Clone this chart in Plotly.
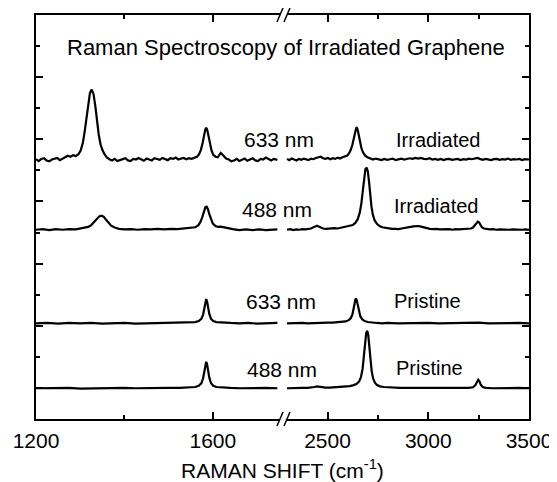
import plotly.graph_objects as go

# ---------------- data ----------------
# vertical stacking offsets of the four spectra (arb. units)
OFFSET_633_IRR = 8.34
OFFSET_488_IRR = 6.09
OFFSET_633_PRI = 3.08
OFFSET_488_PRI = 0.99

# 633 nm irradiated
a_left_x = [1200, 1206, 1212, 1218, 1224, 1230, 1236, 1242, 1248, 1254, 1260, 1266, 1272, 1278, 1284, 1290, 1296,
            1301, 1306, 1310, 1314, 1318, 1322, 1326, 1330, 1334, 1338, 1342, 1346, 1350, 1355, 1360, 1366, 1372,
            1378, 1384, 1390, 1396, 1402, 1408, 1414, 1420, 1426, 1432, 1438, 1444, 1450, 1456, 1462, 1468, 1474,
            1480, 1486, 1492, 1498, 1504, 1510, 1516, 1522, 1528, 1534, 1540, 1546, 1552, 1558, 1564, 1569, 1573,
            1577, 1580, 1583, 1585, 1587, 1590, 1593, 1597, 1601, 1606, 1611, 1615, 1618, 1621, 1625, 1630, 1636,
            1642, 1648, 1654, 1660, 1666, 1672, 1678, 1684, 1690, 1696, 1702, 1708, 1714, 1720, 1726, 1732, 1738, 1746]
a_left_y = [0.02, -0.04, 0.03, 0.05, -0.02, -0.05, 0.01, 0.04, 0.06, -0.01, 0.03, 0.09, 0.13, 0.10, 0.15, 0.12, 0.18,
            0.30, 0.55, 0.90, 1.35, 1.80, 2.15, 2.26, 2.12, 1.75, 1.25, 0.80, 0.50, 0.32, 0.18, 0.08, 0.02, -0.02,
            0.03, -0.04, -0.01, 0.02, 0.05, -0.02, -0.04, 0.03, 0.01, 0.06, 0.02, -0.03, 0.04, 0.01, -0.02, 0.05, 0.03,
            0.00, 0.06, 0.02, -0.01, 0.05, 0.03, 0.07, 0.01, 0.04, 0.06, 0.02, 0.05, 0.03, 0.07, 0.10, 0.18, 0.32,
            0.55, 0.80, 0.98, 1.03, 0.98, 0.78, 0.52, 0.30, 0.16, 0.10, 0.08, 0.16, 0.22, 0.18, 0.10, 0.04, 0.01,
            -0.05, -0.02, 0.03, -0.04, -0.01, 0.04, -0.03, 0.02, 0.05, -0.02, -0.04, 0.03, 0.01, 0.07, 0.02, -0.02, 0.03, 0.00]
a_right_x = [2299, 2310, 2322, 2334, 2346, 2358, 2370, 2382, 2394, 2406, 2418, 2430, 2442, 2454, 2466, 2478, 2490,
             2502, 2514, 2526, 2538, 2550, 2562, 2574, 2586, 2598, 2608, 2616, 2624, 2631, 2637, 2642, 2645, 2649,
             2655, 2661, 2668, 2676, 2686, 2698, 2712, 2726, 2740, 2754, 2768, 2782, 2796, 2810, 2824, 2838, 2852,
             2866, 2880, 2894, 2908, 2922, 2936, 2950, 2964, 2978, 2992, 3006, 3020, 3034, 3048, 3062, 3076, 3090,
             3104, 3118, 3132, 3146, 3160, 3174, 3188, 3202, 3216, 3230, 3244, 3256, 3270, 3284, 3298, 3312, 3326,
             3340, 3354, 3368, 3382, 3396, 3410, 3424, 3438, 3452, 3466, 3480, 3500]
a_right_y = [0.03, -0.01, 0.04, 0.02, -0.02, 0.03, 0.00, 0.04, 0.01, -0.01, 0.04, 0.02, 0.06, 0.08, 0.10, 0.05, 0.03,
             0.06, 0.02, 0.05, 0.03, 0.07, 0.04, 0.08, 0.10, 0.14, 0.22, 0.33, 0.50, 0.72, 0.92, 1.02, 1.03, 0.98,
             0.80, 0.58, 0.38, 0.24, 0.14, 0.08, 0.05, 0.01, 0.04, 0.02, -0.01, 0.03, 0.00, 0.02, 0.04, -0.01, 0.02,
             0.04, 0.01, 0.03, 0.05, 0.03, 0.06, 0.04, 0.06, 0.03, 0.02, 0.05, 0.01, 0.03, 0.00, 0.03, -0.01, 0.02,
             0.03, 0.00, 0.02, 0.03, -0.01, 0.02, 0.01, 0.04, 0.02, 0.04, 0.06, 0.03, 0.00, 0.03, 0.01, -0.01, 0.02,
             0.03, 0.00, 0.02, 0.01, 0.04, 0.00, 0.02, 0.01, 0.03, -0.01, 0.02, 0.01]

# 488 nm irradiated
b_left_x = [1200, 1215, 1230, 1245, 1260, 1275, 1290, 1300, 1310, 1318, 1325, 1332, 1338, 1343, 1348, 1353, 1358,
            1364, 1370, 1378, 1388, 1400, 1415, 1430, 1445, 1460, 1475, 1490, 1505, 1520, 1535, 1550, 1560, 1567,
            1572, 1576, 1580, 1583, 1586, 1589, 1592, 1596, 1600, 1606, 1612, 1618, 1624, 1632, 1645, 1660, 1675,
            1690, 1705, 1720, 1735, 1746]
b_left_y = [0.00, 0.02, -0.01, 0.02, 0.00, 0.02, 0.01, 0.03, 0.05, 0.09, 0.15, 0.25, 0.36, 0.43, 0.45, 0.42, 0.33,
            0.22, 0.13, 0.07, 0.03, 0.01, 0.02, 0.00, 0.02, 0.01, 0.03, 0.01, 0.03, 0.02, 0.04, 0.05, 0.08, 0.14,
            0.25, 0.40, 0.60, 0.72, 0.74, 0.66, 0.50, 0.32, 0.20, 0.12, 0.09, 0.10, 0.08, 0.04, 0.02, -0.01, 0.01,
            -0.01, 0.01, -0.01, 0.00, 0.01]
b_right_x = [2299, 2315, 2330, 2345, 2360, 2375, 2390, 2405, 2418, 2430, 2440, 2448, 2456, 2466, 2478, 2492, 2506,
             2520, 2535, 2550, 2565, 2580, 2595, 2610, 2625, 2638, 2650, 2660, 2668, 2676, 2682, 2688, 2694, 2700,
             2706, 2712, 2718, 2725, 2734, 2745, 2758, 2772, 2788, 2804, 2820, 2836, 2852, 2868, 2884, 2898, 2912,
             2926, 2940, 2952, 2964, 2978, 2992, 3008, 3024, 3040, 3056, 3072, 3088, 3104, 3120, 3136, 3152, 3168,
             3184, 3200, 3212, 3222, 3232, 3240, 3246, 3252, 3258, 3266, 3276, 3290, 3306, 3322, 3338, 3354, 3370,
             3386, 3402, 3418, 3434, 3450, 3466, 3482, 3500]
b_right_y = [0.00, 0.02, -0.01, 0.01, 0.00, 0.02, 0.01, 0.02, 0.04, 0.08, 0.12, 0.13, 0.10, 0.06, 0.04, 0.03, 0.04,
             0.03, 0.05, 0.04, 0.06, 0.07, 0.09, 0.11, 0.15, 0.22, 0.34, 0.55, 0.85, 1.30, 1.70, 1.95, 2.00, 1.88,
             1.55, 1.12, 0.75, 0.48, 0.30, 0.19, 0.12, 0.08, 0.06, 0.04, 0.03, 0.03, 0.02, 0.04, 0.05, 0.07, 0.09,
             0.11, 0.12, 0.12, 0.10, 0.07, 0.05, 0.03, 0.02, 0.03, 0.01, 0.02, 0.01, 0.02, 0.00, 0.02, 0.01, 0.02,
             0.01, 0.03, 0.04, 0.07, 0.14, 0.22, 0.26, 0.24, 0.16, 0.08, 0.04, 0.02, 0.01, 0.02, 0.00, 0.01, 0.00,
             0.01, 0.00, 0.01, 0.00, 0.01, 0.00, 0.01, 0.00]

# 633 nm pristine
c_left_x = [1200, 1225, 1250, 1275, 1300, 1325, 1350, 1375, 1400, 1425, 1450, 1475, 1500, 1525, 1545, 1560, 1568,
            1574, 1578, 1581, 1583, 1585, 1587, 1589, 1592, 1596, 1601, 1608, 1620, 1640, 1660, 1680, 1700, 1720, 1746]
c_left_y = [0.00, 0.01, -0.01, 0.01, 0.00, 0.01, -0.01, 0.00, 0.01, -0.01, 0.00, 0.01, 0.00, 0.01, 0.02, 0.04, 0.07,
            0.14, 0.28, 0.50, 0.68, 0.78, 0.70, 0.52, 0.30, 0.14, 0.07, 0.04, 0.02, 0.01, 0.00, 0.01, -0.01, 0.00, 0.01]
c_right_x = [2299, 2325, 2350, 2375, 2400, 2425, 2450, 2475, 2500, 2525, 2550, 2570, 2590, 2605, 2615, 2623, 2629,
             2634, 2638, 2641, 2645, 2650, 2656, 2663, 2672, 2684, 2700, 2720, 2745, 2770, 2800, 2850, 2900, 2950,
             3000, 3050, 3100, 3150, 3200, 3250, 3300, 3350, 3400, 3450, 3500]
c_right_y = [0.00, 0.01, 0.00, 0.01, 0.00, 0.01, 0.02, 0.01, 0.02, 0.02, 0.03, 0.04, 0.06, 0.10, 0.16, 0.27, 0.42,
             0.62, 0.76, 0.80, 0.74, 0.56, 0.36, 0.22, 0.13, 0.07, 0.04, 0.02, 0.01, 0.00, 0.01, 0.00, 0.01, 0.00,
             0.01, 0.00, 0.01, 0.00, 0.01, 0.02, 0.00, 0.01, 0.00, 0.01, 0.00]

# 488 nm pristine
d_left_x = [1200, 1225, 1250, 1275, 1300, 1325, 1350, 1375, 1400, 1425, 1450, 1475, 1500, 1525, 1545, 1560, 1568,
            1574, 1578, 1581, 1583, 1585, 1587, 1589, 1592, 1596, 1601, 1608, 1620, 1640, 1660, 1680, 1700, 1720, 1746]
d_left_y = [0.00, 0.01, 0.00, 0.01, -0.01, 0.00, 0.01, 0.00, 0.01, 0.00, 0.01, 0.00, 0.01, 0.01, 0.02, 0.04, 0.08,
            0.16, 0.32, 0.56, 0.75, 0.85, 0.77, 0.58, 0.34, 0.16, 0.08, 0.04, 0.02, 0.01, 0.00, 0.01, 0.00, 0.01, 0.00]
d_right_x = [2299, 2325, 2350, 2375, 2400, 2420, 2435, 2447, 2458, 2470, 2490, 2510, 2530, 2550, 2570, 2590, 2610,
             2630, 2645, 2657, 2666, 2674, 2681, 2687, 2692, 2697, 2702, 2707, 2713, 2719, 2726, 2735, 2746, 2760,
             2780, 2800, 2830, 2860, 2900, 2950, 3000, 3050, 3100, 3150, 3200, 3222, 3234, 3242, 3248, 3254, 3261,
             3270, 3285, 3320, 3360, 3400, 3450, 3500]
d_right_y = [0.00, 0.01, 0.00, 0.01, 0.01, 0.02, 0.04, 0.06, 0.05, 0.03, 0.02, 0.02, 0.03, 0.03, 0.04, 0.05, 0.07,
             0.10, 0.14, 0.22, 0.36, 0.62, 1.05, 1.50, 1.78, 1.85, 1.72, 1.38, 0.92, 0.56, 0.32, 0.18, 0.10, 0.06,
             0.04, 0.03, 0.02, 0.01, 0.01, 0.01, 0.00, 0.01, 0.00, 0.01, 0.01, 0.03, 0.10, 0.20, 0.27, 0.22, 0.11,
             0.04, 0.01, 0.00, 0.01, 0.00, 0.01, 0.00]

x_tick_labels_left = ["1200", "1600"]
x_tick_labels_right = ["2500", "3000", "3500"]
title_text = "Raman Spectroscopy of Irradiated Graphene"
x_title = "RAMAN SHIFT (cm<sup>-1</sup>)"

# ---------------- figure ----------------
PAGE = 8                      # default page margin of the html body
W, H = 557 - PAGE, 482 - PAGE
PL, PR, PT, PB = 32, 531, 13, 419   # plot area in window pixels
ML, MT = PL - PAGE, PT - PAGE
MR, MB = 557 - PR, 482 - PB
PW, PH = PR - PL, PB - PT
BREAK = (282 - PL) / PW
FONT = "Arial, Liberation Sans, Helvetica, sans-serif"


def fx(p):
    return (p - PL) / PW


def fy(p):
    return (PB - p) / PH


spectra = [
    (a_left_x, a_left_y, a_right_x, a_right_y, OFFSET_633_IRR),
    (b_left_x, b_left_y, b_right_x, b_right_y, OFFSET_488_IRR),
    (c_left_x, c_left_y, c_right_x, c_right_y, OFFSET_633_PRI),
    (d_left_x, d_left_y, d_right_x, d_right_y, OFFSET_488_PRI),
]

fig = go.Figure()
line = dict(color="black", width=2.2)
for lx, ly, rx, ry, off in spectra:
    fig.add_trace(go.Scatter(x=lx, y=[v + off for v in ly], mode="lines", line=line,
                             xaxis="x", yaxis="y", showlegend=False, hoverinfo="skip"))
    fig.add_trace(go.Scatter(x=rx, y=[v + off for v in ry], mode="lines", line=line,
                             xaxis="x2", yaxis="y2", showlegend=False, hoverinfo="skip"))

axis_common = dict(showline=True, linecolor="black", linewidth=2, showgrid=False, zeroline=False,
                   ticks="inside", tickcolor="black", tickwidth=1.5, ticklen=7)
tickfont = dict(family=FONT, size=21, color="black")

fig.update_layout(
    width=W, height=H,
    margin=dict(l=ML, r=MR, t=MT, b=MB, pad=0),
    paper_bgcolor="white", plot_bgcolor="white",
    xaxis=dict(domain=[0, BREAK], range=[1200, 1758.7], anchor="y", mirror="ticks",
               tickvals=[1200, 1600], ticktext=x_tick_labels_left, tickfont=tickfont,
               ticklabelstandoff=2,
               minor=dict(ticks="inside", ticklen=4, tickwidth=1.5, tickcolor="black", tickvals=[1400]),
               **axis_common),
    xaxis2=dict(domain=[BREAK, 1], range=[2279, 3500], anchor="y2", mirror="ticks",
                tickvals=[2500, 3000, 3500], ticktext=x_tick_labels_right, tickfont=tickfont,
                ticklabelstandoff=2,
                minor=dict(ticks="inside", ticklen=4, tickwidth=1.5, tickcolor="black", tickvals=[2750, 3250]),
                **axis_common),
    yaxis=dict(domain=[0, 1], range=[0, 13], anchor="x", side="left", showticklabels=False,
               tickvals=[1, 3, 5, 7, 9, 11],
               minor=dict(ticks="inside", ticklen=4, tickwidth=1.5, tickcolor="black",
                          tickvals=[2, 4, 6, 8, 10, 12]),
               **axis_common),
    yaxis2=dict(domain=[0, 1], range=[0, 13], anchor="x2", side="right", showticklabels=False,
                tickvals=[1, 3, 5, 7, 9, 11],
                minor=dict(ticks="inside", ticklen=4, tickwidth=1.5, tickcolor="black",
                           tickvals=[2, 4, 6, 8, 10, 12]),
                **axis_common),
)

# axis break marks
shapes = []
for ya in (0, 1):
    shapes.append(dict(type="rect", xref="paper", yref="paper", xsizemode="pixel", ysizemode="pixel",
                       xanchor=BREAK, yanchor=ya, x0=-3, x1=4, y0=-3, y1=3,
                       fillcolor="white", line=dict(width=0), layer="above"))
    for dx in (0, 7):
        shapes.append(dict(type="line", xref="paper", yref="paper", xsizemode="pixel", ysizemode="pixel",
                           xanchor=BREAK, yanchor=ya, x0=-6 + dx, y0=-7, x1=0 + dx, y1=7,
                           line=dict(color="black", width=1.5), layer="above"))
fig.update_layout(shapes=shapes)

labels = [
    (title_text, 285, 46, 22),
    ("633 nm", 277.5, 138.5, 21), ("Irradiated", 439.5, 138.5, 20),
    ("488 nm", 275.5, 208, 21), ("Irradiated", 437.5, 205, 20),
    ("633 nm", 280, 301, 21), ("Pristine", 428, 300, 20),
    ("488 nm", 280.5, 369.5, 21), ("Pristine", 430, 368, 20),
    (x_title, 281.5, 469.5, 21),
]
for text, px, py, size in labels:
    fig.add_annotation(text=text, xref="paper", yref="paper", x=fx(px), y=fy(py),
                       xanchor="center", yanchor="middle", showarrow=False,
                       font=dict(family=FONT, size=size, color="black"))

fig.write_html("out.html")
